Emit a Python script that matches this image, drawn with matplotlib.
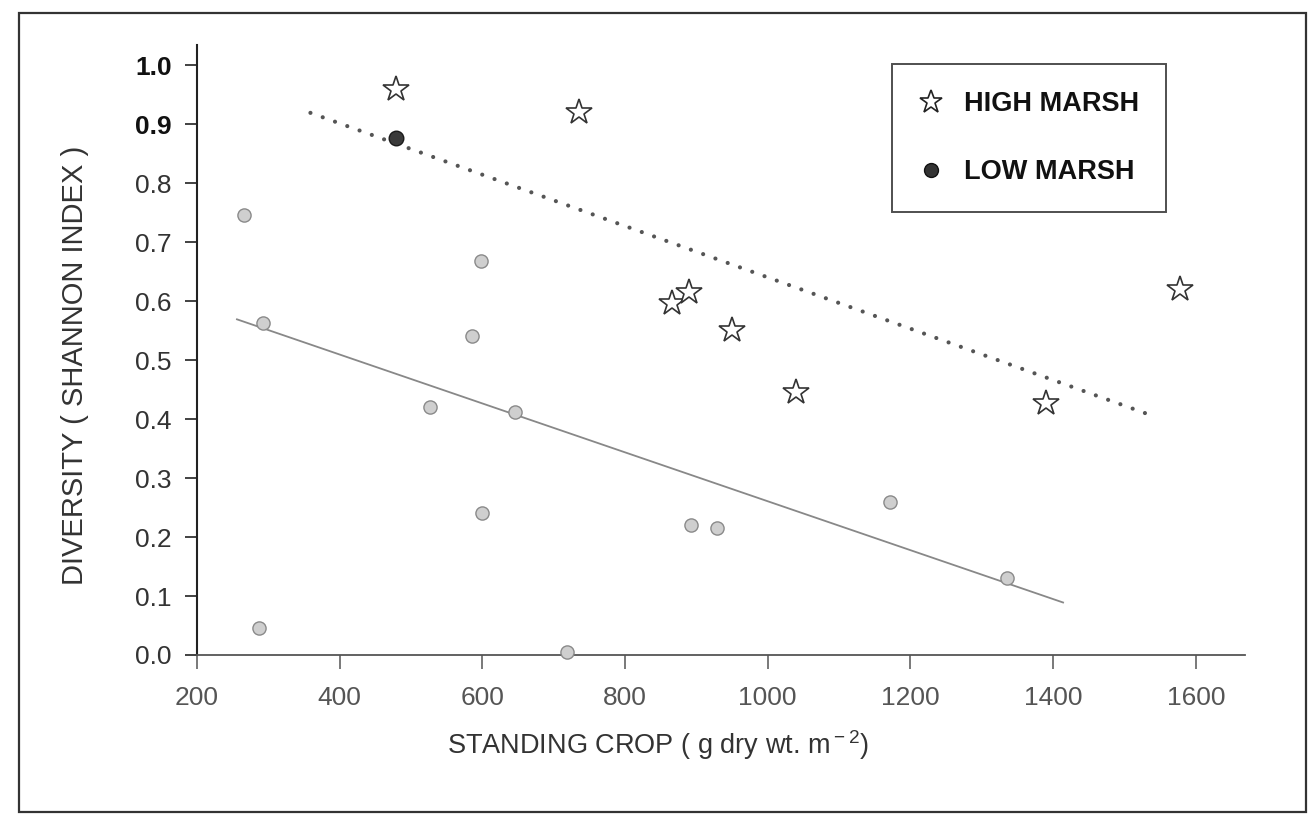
import matplotlib
matplotlib.use("Agg")
import matplotlib.pyplot as plt
from matplotlib.lines import Line2D
from matplotlib.patches import Rectangle

# high marsh (stars)
high_crop = [479, 735, 866, 889, 950, 1040, 1390, 1578]
high_div = [0.96, 0.92, 0.597, 0.616, 0.551, 0.446, 0.428, 0.62]

# low marsh (dots)
low_crop = [266, 292, 287, 526, 586, 598, 599, 646, 719, 893, 929, 1172, 1335]
low_div = [0.745, 0.563, 0.045, 0.42, 0.54, 0.668, 0.24, 0.412, 0.005, 0.22, 0.215, 0.26, 0.13]
# the one point printed dark, sitting on the dotted line
low_dark_crop = [479]
low_dark_div = [0.877]

# regression lines (end points)
high_fit_x = [359, 1529]
high_fit_y = [0.919, 0.41]
low_fit_x = [256, 1414]
low_fit_y = [0.569, 0.089]

x_ticks = [200, 400, 600, 800, 1000, 1200, 1400, 1600]
y_ticks = [0.0, 0.1, 0.2, 0.3, 0.4, 0.5, 0.6, 0.7, 0.8, 0.9, 1.0]

plt.rcParams['font.family'] = ['Liberation Sans', 'DejaVu Sans']
plt.rcParams['mathtext.fontset'] = 'custom'
plt.rcParams['mathtext.rm'] = 'Liberation Sans'

W, H = 1311, 824
fig = plt.figure(figsize=(W / 100, H / 100), dpi=100)
fig.patch.set_facecolor('white')

# outer frame of the scanned figure
fig.patches.append(Rectangle((19 / W, 1 - 812 / H), (1306 - 19) / W, (812 - 13) / H,
                             transform=fig.transFigure, fill=False,
                             edgecolor='#333333', linewidth=1.6))

ax = fig.add_axes([197 / W, 1 - 655 / H, (1245 - 197) / W, (655 - 45) / H])
ax.set_xlim(200, 1669)
ax.set_ylim(0, 1.034)

for side in ['top', 'right']:
    ax.spines[side].set_visible(False)
ax.spines['left'].set_color('#222222')
ax.spines['bottom'].set_color('#555555')
ax.spines['left'].set_linewidth(1.5)
ax.spines['bottom'].set_linewidth(1.3)

# fitted lines
ax.plot(high_fit_x, high_fit_y, color='#555555', linewidth=3,
        linestyle=(0, (0.01, 3.12)), dash_capstyle='round', zorder=2)
ax.plot(low_fit_x, low_fit_y, color='#888888', linewidth=1.3, zorder=2)

# points
ax.plot(low_crop, low_div, linestyle='none', marker='o', markersize=9.5,
        markerfacecolor='#cfcfcf', markeredgecolor='#8a8a8a', markeredgewidth=1.0,
        zorder=3, clip_on=False)
ax.plot(low_dark_crop, low_dark_div, linestyle='none', marker='o', markersize=10.5,
        markerfacecolor='#3a3a3a', markeredgecolor='#1a1a1a', markeredgewidth=1.0, zorder=3)
ax.plot(high_crop, high_div, linestyle='none', marker='*', markersize=19,
        markerfacecolor='white', markeredgecolor='#333333', markeredgewidth=1.2, zorder=4)

ax.set_xticks(x_ticks)
ax.set_xticklabels([str(v) for v in x_ticks])
ax.set_yticks(y_ticks)
ax.set_yticklabels([f"{v:.1f}" for v in y_ticks])
ax.tick_params(axis='y', direction='out', length=9, width=1.3, pad=9,
               labelsize=19, colors='#333333')
ax.tick_params(axis='x', direction='out', length=10, width=1.1, pad=12,
               labelsize=19, colors='#555555')
for lab in ax.get_yticklabels()[-2:]:
    lab.set_fontweight('bold')
    lab.set_color('#111111')

ax.set_xlabel("STANDING CROP ( g dry wt. m$^{\\rm -2}$)", fontsize=19.5,
              color='#333333', va='center')
ax.xaxis.set_label_coords(0.44, -0.1475)
ax.set_ylabel("DIVERSITY ( SHANNON INDEX )", fontsize=21, color='#333333',
              va='center')
ax.yaxis.set_label_coords(-0.1164, 0.475)

handles = [
    Line2D([], [], linestyle='none', marker='*', markersize=17,
           markerfacecolor='white', markeredgecolor='#222222', markeredgewidth=1.2),
    Line2D([], [], linestyle='none', marker='o', markersize=10,
           markerfacecolor='#333333', markeredgecolor='#111111'),
]
leg = ax.legend(handles, ['HIGH MARSH', 'LOW MARSH'], loc='upper left',
                bbox_to_anchor=(892 / W, 1 - 64 / H), bbox_transform=fig.transFigure,
                prop={'weight': 'bold', 'size': 19.5}, frameon=True, fancybox=False,
                borderpad=1.0, labelspacing=1.55, handlelength=0.9,
                handletextpad=0.75, borderaxespad=0)
leg.get_frame().set_edgecolor('#222222')
leg.get_frame().set_linewidth(1.4)
for t in leg.get_texts():
    t.set_color('#111111')

fig.savefig("out.png", dpi=100)
